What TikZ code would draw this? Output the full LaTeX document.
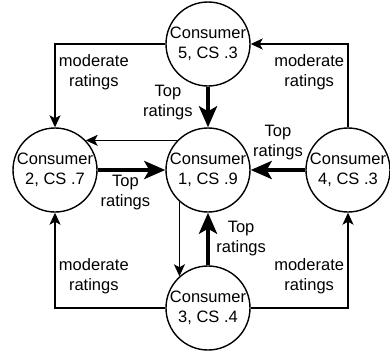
\documentclass[tikz,border=0pt]{standalone}
\usepackage{fontspec}
\setmainfont{Liberation Sans}
\usetikzlibrary{positioning,arrows.meta}
\tikzset{
consumer/.style={circle, draw=black, line width=1.4pt, minimum size=84pt, inner sep=0pt, fill=white},
>={Stealth[length=12pt,width=11pt,inset=3pt]},
light/.style={->, line width=1.3pt},
heavy/.style={-{Stealth[length=21pt,width=18pt,inset=5pt]}, line width=4pt},
}
\begin{document}
\begin{tikzpicture}[x=1pt, y=-1pt, align=center, font=\fontsize{16.5}{20}\selectfont]

    \useasboundingbox (0,0) rectangle (390,356);

    \node[consumer] (CONSUMER_5) at(208, 44)  {Consumer\\5, CS .3};
    \node[consumer] (CONSUMER_2) at(55, 170)  {Consumer\\2, CS .7};
    \node[consumer] (CONSUMER_1) at(208, 170)  {Consumer\\1, CS .9};
    \node[consumer] (CONSUMER_4) at(348, 170)  {Consumer\\4, CS .3};
    \node[consumer] (CONSUMER_3) at(208, 308)  {Consumer\\3, CS .4};

    \draw[light] (CONSUMER_5)  -| node[pos=0.667,right] {moderate\\ratings} (CONSUMER_2) ;
    \draw[light] (CONSUMER_4)  |- node[pos=0.333,left] {moderate\\ratings} (CONSUMER_5) ;
    \draw[light] (CONSUMER_3)  -| node[pos=0.667,right] {moderate\\ratings} (CONSUMER_2) ;
    \draw[light] (CONSUMER_3)  -| node[pos=0.667,left] {moderate\\ratings} (CONSUMER_4) ;

    \draw[light] (CONSUMER_1.136)  to (CONSUMER_2.44) ;
    \draw[light] (CONSUMER_1.228)  to (CONSUMER_3.132) ;

    \draw[heavy] (CONSUMER_5)  to node[pos=0.4,left=10pt] {Top\\ratings} (CONSUMER_1) ;
    \draw[heavy] (CONSUMER_4)  to node[above=5pt] {Top\\ratings} (CONSUMER_1) ;
    \draw[heavy] (CONSUMER_2)  to node[pos=0.41,below=0pt] {Top\\ratings} (CONSUMER_1) ;
    \draw[heavy] (CONSUMER_3)  to node[right=3pt] {Top\\ratings} (CONSUMER_1) ;
\end{tikzpicture}
\end{document}
